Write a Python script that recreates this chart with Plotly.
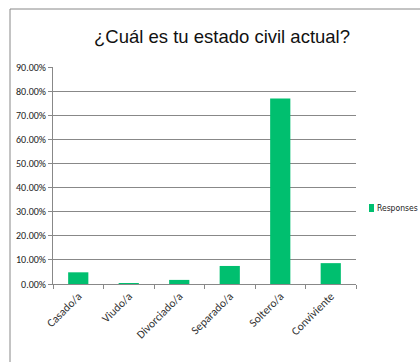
import plotly.graph_objects as go

categories = ["Casado/a", "Viudo/a", "Divorciado/a", "Separado/a", "Soltero/a", "Conviviente"]
values = [0.0485, 0.004, 0.0170, 0.0748, 0.7690, 0.0865]
series_name = "Responses"
y_ticks = [0, 0.1, 0.2, 0.3, 0.4, 0.5, 0.6, 0.7, 0.8, 0.9]
y_tick_labels = ["0.00%", "10.00%", "20.00%", "30.00%", "40.00%", "50.00%", "60.00%", "70.00%", "80.00%", "90.00%"]

W, H = 420, 362
L, R, T, B = 53, 64, 67, 78
pw, ph = W - L - R, H - T - B
GREEN = "#00BF6F"

def px_x(p):
    return (p - L) / pw

def px_y(p):
    return (H - B - p) / ph

fig = go.Figure(go.Bar(
    x=categories, y=values, name=series_name,
    marker=dict(color=GREEN, line=dict(width=0)),
    showlegend=False,
))

fig.update_layout(
    width=W, height=H,
    margin=dict(l=L, r=R, t=T, b=B, autoexpand=False),
    paper_bgcolor="white", plot_bgcolor="white",
    bargap=0.6,
    title=dict(text="¿Cuál es tu estado civil actual?", x=px_x(222), xref="paper", xanchor="center",
               y=1 - 37 / H, yanchor="middle",
               font=dict(family="Liberation Sans Narrow, Arial Narrow, Liberation Sans, Arial", size=18.5, color="#111111")),
    font=dict(family="Carlito, Calibri, Liberation Sans Narrow, Liberation Sans, Arial", size=10, color="#222222"),
    xaxis=dict(type="category", showline=True, linecolor="#888888", linewidth=1,
               ticks="outside", tickson="boundaries", ticklen=4, tickcolor="#888888",
               tickangle=-45, tickfont=dict(size=11.5, color="#333333"), showgrid=False),
    yaxis=dict(range=[0, 0.9], tickvals=y_ticks, ticktext=y_tick_labels,
               showline=True, linecolor="#888888", linewidth=1,
               ticks="outside", ticklen=4, tickcolor="#888888",
               showgrid=True, gridcolor="#888888", gridwidth=1, zeroline=False,
               tickfont=dict(size=10, color="#222222")),
    shapes=[
        dict(type="rect", xref="paper", yref="paper",
             x0=px_x(10), x1=px_x(430), y0=px_y(372), y1=px_y(9),
             line=dict(color="#888888", width=1), fillcolor="rgba(0,0,0,0)", layer="below"),
        dict(type="rect", xref="paper", yref="paper",
             x0=px_x(369), x1=px_x(374), y0=px_y(212), y1=px_y(204),
             line=dict(width=0), fillcolor=GREEN),
    ],
    annotations=[
        dict(text=series_name, xref="paper", yref="paper", x=px_x(375), y=px_y(208),
             xanchor="left", yanchor="middle", showarrow=False,
             font=dict(family="DejaVu Sans Condensed, Liberation Sans", size=8.5, color="#222222")),
    ],
)

fig.write_html("out.html")
